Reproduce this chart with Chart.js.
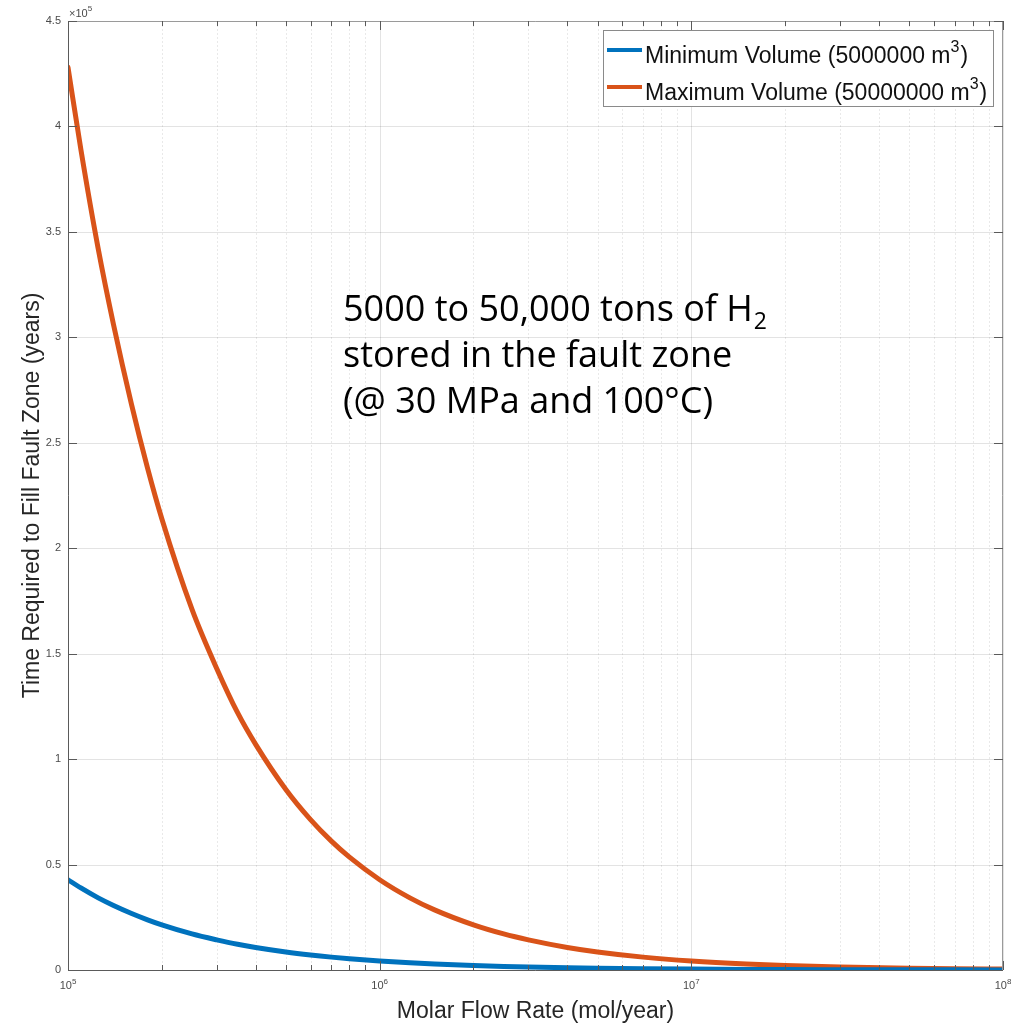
<!DOCTYPE html>
<html>
<head>
<meta charset="utf-8">
<script src="https://cdn.jsdelivr.net/npm/chart.js@4.4.1/dist/chart.umd.min.js"></script>
<style>
  html, body { margin: 0; padding: 0; background: #ffffff; }
  #wrap { width: 1011px; height: 1027px; }
</style>
</head>
<body>
<div id="wrap"><canvas id="c" width="1011" height="1027"></canvas></div>
<script>
// Molar flow rate samples (mol/year)
const flowRates = [1e5, 1.1e5, 1.25e5, 1.4e5, 1.6e5, 1.8e5, 2e5, 2.5e5, 3e5, 3.5e5, 4e5, 5e5, 6e5, 7e5, 8e5,
                   1e6, 1.25e6, 1.5e6, 2e6, 2.5e6, 3e6, 4e6, 5e6, 7e6, 1e7, 1.5e7, 2e7, 3e7, 5e7, 7e7, 1e8];
// Time to fill the fault zone (years)
const minVolumeYears = [42800, 38900, 34200, 30600, 26800, 23800, 21400, 17100, 14300, 12200, 10700, 8560, 7130, 6110, 5350,
                        4280, 3420, 2850, 2140, 1710, 1430, 1070, 860, 610, 430, 290, 215, 145, 86, 61, 43];
const maxVolumeYears = [428000, 389000, 342000, 306000, 268000, 238000, 214000, 171000, 143000, 122000, 107000, 85600, 71300, 61100, 53500,
                        42800, 34200, 28500, 21400, 17100, 14300, 10700, 8560, 6110, 4280, 2850, 2140, 1430, 860, 610, 430];
const seriesNames = ['Minimum Volume (5000000 m', 'Maximum Volume (50000000 m'];
const seriesColors = ['#0072BD', '#D95319'];

// Axis ticks
const yTickValues = [0, 50000, 100000, 150000, 200000, 250000, 300000, 350000, 400000, 450000];
const yTickLabels = ['0', '0.5', '1', '1.5', '2', '2.5', '3', '3.5', '4', '4.5'];
const xDecades = [5, 6, 7, 8];
const xMinorMultipliers = [2, 3, 4, 5, 6, 7, 8, 9];

const annotationLines = ['5000 to 50,000 tons of H', 'stored in the fault zone', '(@ 30 MPa and 100°C)'];

const AXIS_FONT = '"Liberation Sans", Arial, Helvetica, sans-serif';
const NOTE_FONT = '"Open Sans", Lato, sans-serif';
const TEXT_DARK = '#262626';

// Grid lines behind the curves
const gridPlugin = {
  id: 'matlabGrid',
  beforeDatasetsDraw(chart) {
    const { ctx, chartArea: a, scales: { x, y } } = chart;
    ctx.save();
    ctx.lineWidth = 1;
    // minor x grid (dotted)
    ctx.strokeStyle = 'rgba(38,38,38,0.10)';
    ctx.setLineDash([2, 2]);
    xDecades.slice(0, -1).forEach(d => {
      xMinorMultipliers.forEach(m => {
        const px = Math.round(x.getPixelForValue(m * Math.pow(10, d))) + 0.5;
        ctx.beginPath(); ctx.moveTo(px, a.top); ctx.lineTo(px, a.bottom); ctx.stroke();
      });
    });
    ctx.setLineDash([]);
    // major grid
    ctx.strokeStyle = 'rgba(38,38,38,0.13)';
    xDecades.forEach(d => {
      const px = Math.round(x.getPixelForValue(Math.pow(10, d))) + 0.5;
      ctx.beginPath(); ctx.moveTo(px, a.top); ctx.lineTo(px, a.bottom); ctx.stroke();
    });
    yTickValues.forEach(v => {
      const py = Math.round(y.getPixelForValue(v)) + 0.5;
      ctx.beginPath(); ctx.moveTo(a.left, py); ctx.lineTo(a.right, py); ctx.stroke();
    });
    ctx.restore();
  }
};

// Axes box, tick marks, tick labels, titles, legend and the text note
const decorPlugin = {
  id: 'matlabDecor',
  afterDatasetsDraw(chart) {
    const { ctx, chartArea: a, scales: { x, y } } = chart;
    ctx.save();
    // box
    ctx.lineWidth = 1;
    ctx.strokeStyle = '#9a9a9a';
    ctx.beginPath();
    ctx.moveTo(a.left, a.top + 0.5); ctx.lineTo(a.right - 0.5, a.top + 0.5); ctx.lineTo(a.right - 0.5, a.bottom);
    ctx.stroke();
    ctx.strokeStyle = '#5a5a5a';
    ctx.beginPath();
    ctx.moveTo(a.left + 0.5, a.top); ctx.lineTo(a.left + 0.5, a.bottom + 0.5); ctx.lineTo(a.right, a.bottom + 0.5);
    ctx.stroke();

    // tick marks
    const majorLen = 9, minorLen = 5;
    ctx.strokeStyle = '#5a5a5a';
    yTickValues.forEach(v => {
      const py = Math.round(y.getPixelForValue(v)) + 0.5;
      ctx.beginPath(); ctx.moveTo(a.left, py); ctx.lineTo(a.left + majorLen, py); ctx.stroke();
      ctx.beginPath(); ctx.moveTo(a.right, py); ctx.lineTo(a.right - majorLen, py); ctx.stroke();
    });
    xDecades.forEach(d => {
      const px = Math.round(x.getPixelForValue(Math.pow(10, d))) + 0.5;
      ctx.beginPath(); ctx.moveTo(px, a.bottom); ctx.lineTo(px, a.bottom - majorLen); ctx.stroke();
      ctx.beginPath(); ctx.moveTo(px, a.top); ctx.lineTo(px, a.top + majorLen); ctx.stroke();
    });
    xDecades.slice(0, -1).forEach(d => {
      xMinorMultipliers.forEach(m => {
        const px = Math.round(x.getPixelForValue(m * Math.pow(10, d))) + 0.5;
        ctx.beginPath(); ctx.moveTo(px, a.bottom); ctx.lineTo(px, a.bottom - minorLen); ctx.stroke();
        ctx.beginPath(); ctx.moveTo(px, a.top); ctx.lineTo(px, a.top + minorLen); ctx.stroke();
      });
    });

    // y tick labels
    ctx.fillStyle = '#4a4a4a';
    ctx.font = '11px ' + AXIS_FONT;
    ctx.textAlign = 'right';
    ctx.textBaseline = 'middle';
    yTickValues.forEach((v, i) => {
      ctx.fillText(yTickLabels[i], a.left - 7, y.getPixelForValue(v));
    });
    // exponent above the y axis
    ctx.textAlign = 'left';
    ctx.textBaseline = 'alphabetic';
    ctx.fillText('\u00d710', a.left + 1, a.top - 4);
    const w10 = ctx.measureText('\u00d710').width;
    ctx.font = '8px ' + AXIS_FONT;
    ctx.fillText('5', a.left + 1 + w10, a.top - 10);

    // x tick labels: 10^n
    xDecades.forEach(d => {
      const px = x.getPixelForValue(Math.pow(10, d));
      ctx.font = '11px ' + AXIS_FONT;
      const wb = ctx.measureText('10').width;
      ctx.font = '8px ' + AXIS_FONT;
      const we = ctx.measureText(String(d)).width;
      const left = px - (wb + we) / 2;
      ctx.font = '11px ' + AXIS_FONT;
      ctx.textAlign = 'left';
      ctx.fillText('10', left, a.bottom + 19);
      ctx.font = '8px ' + AXIS_FONT;
      ctx.fillText(String(d), left + wb, a.bottom + 14);
    });

    // axis titles
    ctx.fillStyle = TEXT_DARK;
    ctx.font = '23px ' + AXIS_FONT;
    ctx.textAlign = 'center';
    ctx.fillText('Molar Flow Rate (mol/year)', (a.left + a.right) / 2, a.bottom + 48);
    ctx.save();
    ctx.translate(39, (a.top + a.bottom) / 2);
    ctx.rotate(-Math.PI / 2);
    ctx.fillText('Time Required to Fill Fault Zone (years)', 0, 0);
    ctx.restore();

    // legend
    const lg = { left: 603, top: 30, right: 993, bottom: 106 };
    ctx.fillStyle = '#ffffff';
    ctx.fillRect(lg.left, lg.top, lg.right - lg.left, lg.bottom - lg.top);
    ctx.strokeStyle = '#8a8a8a';
    ctx.lineWidth = 1;
    ctx.strokeRect(lg.left + 0.5, lg.top + 0.5, lg.right - lg.left, lg.bottom - lg.top);
    const rows = [63, 100];
    chart.data.datasets.forEach((ds, i) => {
      const cy = rows[i];
      ctx.strokeStyle = ds.borderColor;
      ctx.lineWidth = 4;
      ctx.beginPath(); ctx.moveTo(lg.left + 4, cy - 13); ctx.lineTo(lg.left + 39, cy - 13); ctx.stroke();
      ctx.fillStyle = '#111111';
      ctx.font = '23px ' + AXIS_FONT;
      ctx.textAlign = 'left';
      ctx.fillText(ds.label, lg.left + 42, cy);
      const tw = ctx.measureText(ds.label).width;
      ctx.font = '16px ' + AXIS_FONT;
      ctx.fillText('3', lg.left + 42 + tw, cy - 11);
      const sw = ctx.measureText('3').width;
      ctx.font = '23px ' + AXIS_FONT;
      ctx.fillText(')', lg.left + 42 + tw + sw + 1, cy);
    });

    // text note
    ctx.fillStyle = '#000000';
    ctx.font = '36px ' + NOTE_FONT;
    ctx.textAlign = 'left';
    const nx = 343, baselines = [321, 367, 413];
    annotationLines.forEach((t, i) => ctx.fillText(t, nx, baselines[i]));
    const hw = ctx.measureText(annotationLines[0]).width;
    ctx.font = '23px ' + NOTE_FONT;
    ctx.fillText('2', nx + hw + 1, baselines[0] + 8);
    ctx.restore();
  }
};

new Chart(document.getElementById('c'), {
  type: 'line',
  data: {
    labels: flowRates,
    datasets: [
      { label: seriesNames[0], data: flowRates.map((r, i) => ({ x: r, y: minVolumeYears[i] })),
        borderColor: seriesColors[0], backgroundColor: seriesColors[0] },
      { label: seriesNames[1], data: flowRates.map((r, i) => ({ x: r, y: maxVolumeYears[i] })),
        borderColor: seriesColors[1], backgroundColor: seriesColors[1] }
    ]
  },
  options: {
    responsive: false,
    animation: false,
    devicePixelRatio: 1,
    layout: { padding: { left: 68, top: 21, right: 8, bottom: 57 } },
    elements: {
      line: { borderWidth: 5, cubicInterpolationMode: 'monotone', borderCapStyle: 'round' },
      point: { radius: 0, hoverRadius: 0 }
    },
    scales: {
      x: { type: 'logarithmic', min: 1e5, max: 1e8, display: false },
      y: { type: 'linear', min: 0, max: 450000, display: false }
    },
    plugins: { legend: { display: false }, tooltip: { enabled: false } }
  },
  plugins: [gridPlugin, decorPlugin]
});
</script>
</body>
</html>
